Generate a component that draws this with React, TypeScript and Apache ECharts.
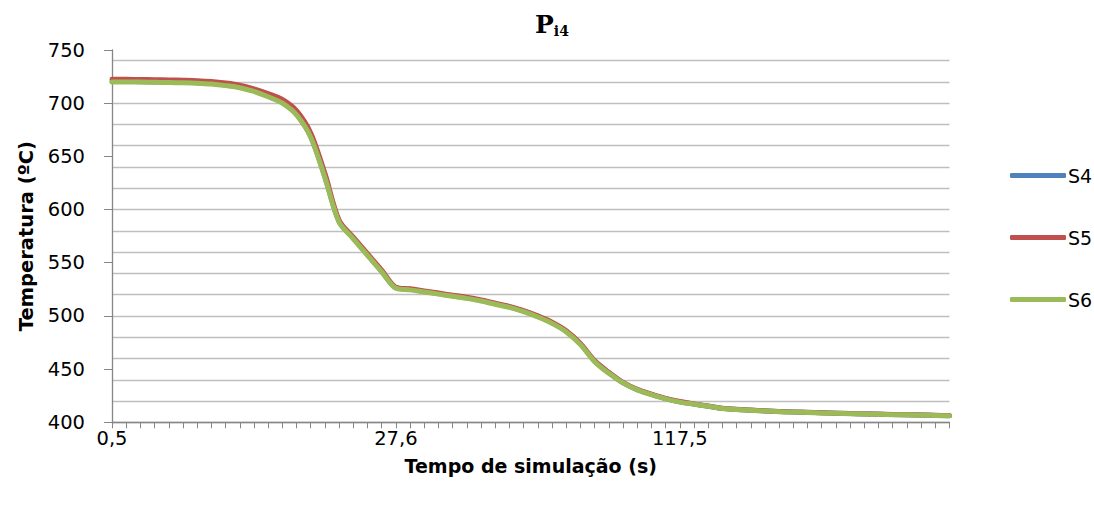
import React, { useEffect, useRef } from "react";
import * as echarts from "echarts";

const times: number[] = [
  0.5, 1.8, 3.2, 4.5, 5.9, 7.2, 8.6, 9.9, 11.3, 12.6,
  14.0, 15.3, 16.7, 18.0, 19.4, 20.7, 22.1, 23.4, 24.8, 26.1,
  27.6, 32.1, 36.6, 41.1, 45.6, 50.1, 54.6, 59.1, 63.6, 68.1,
  72.6, 77.1, 81.6, 86.1, 90.6, 95.1, 99.6, 104.1, 108.6, 113.1,
  117.5, 132.5, 147.5, 162.5, 177.5, 192.5, 207.5, 222.5, 237.5, 252.5,
  267.5, 282.5, 297.5, 312.5, 327.5, 342.5, 357.5, 372.5, 387.5, 402.5,
];

const s6: number[] = [
  720, 720, 719.8, 719.6, 719.4, 719.2, 718.8, 718, 716.5, 714.5,
  711, 706, 700, 689, 668, 630, 588, 572.5, 557, 541.5,
  526, 524.5, 522.5, 520.5, 518.5, 516.5, 514, 511, 508, 504,
  499, 493, 485, 473, 457, 446, 437, 430.5, 426, 422,
  419, 417, 415, 413, 412, 411.3, 410.6, 410, 409.6, 409.2,
  408.8, 408.4, 408.1, 407.8, 407.5, 407.2, 407, 406.7, 406.4, 406.1,
];

const s5: number[] = [
  722.5, 722.4, 722.3, 722.1, 721.9, 721.6, 721.2, 720.4, 719, 717,
  713.5, 709, 703.5, 693, 672, 634, 590, 574, 558.5, 543,
  527, 525.5, 523.5, 521.5, 519.5, 517.5, 515, 512, 509, 505,
  500, 494, 486, 474, 458, 447, 437.5, 431, 426.5, 422.5,
  419.5, 417.3, 415.3, 413.3, 412.2, 411.5, 410.8, 410.2, 409.8, 409.4,
  409, 408.6, 408.3, 408, 407.7, 407.4, 407.2, 406.9, 406.6, 406.3,
];

const s4: number[] = [
  720.5, 720.4, 720.2, 720, 719.8, 719.6, 719.2, 718.4, 717, 715,
  711.5, 706.5, 700.5, 689.5, 668.5, 630.5, 588.5, 573, 557.5, 542,
  526.5, 525, 523, 521, 519, 517, 514.5, 511.5, 508.5, 504.5,
  499.5, 493.5, 485.5, 473.5, 457.5, 446.5, 437, 430.7, 426.2, 422.2,
  419.2, 417.1, 415.1, 413.1, 412.1, 411.4, 410.7, 410.1, 409.7, 409.3,
  408.9, 408.5, 408.2, 407.9, 407.6, 407.3, 407.1, 406.8, 406.5, 406.2,
];

const seriesNames = ["S4", "S5", "S6"];
const seriesColors = ["#4F81BD", "#C0504D", "#9BBB59"];

export default function App() {
  const ref = useRef<HTMLDivElement>(null);
  useEffect(() => {
    if (!ref.current) return;
    const chart = echarts.init(ref.current, undefined, { renderer: "svg" });
    const font = "'DejaVu Sans', Verdana, sans-serif";
    const serif = "'DejaVu Serif', 'Liberation Serif', serif";
    const data = [s4, s5, s6];
    chart.setOption({
      animation: false,
      backgroundColor: "#ffffff",
      textStyle: { fontFamily: font },
      title: {
        text: "{p|P}{s|i4}",
        left: 547,
        textAlign: "center",
        top: 6,
        textStyle: {
          rich: {
            p: { fontFamily: serif, fontWeight: "bold", fontSize: 25, color: "#000" },
            s: { fontFamily: serif, fontWeight: "bold", fontSize: 14, color: "#000", padding: [13, 0, 0, 0] },
          },
        },
      },
      legend: {
        orient: "vertical",
        left: 1005,
        top: 161,
        itemWidth: 56,
        itemHeight: 5,
        itemGap: 43,
        icon: "roundRect",
        data: seriesNames,
        textStyle: { fontSize: 19, color: "#000", fontFamily: font, padding: [0, 0, 0, -3] },
      },
      grid: { left: 112, right: 144.5, top: 50, bottom: 83.7, containLabel: false },
      xAxis: {
        type: "category",
        boundaryGap: false,
        data: times,
        name: "Tempo de simulação (s)",
        nameLocation: "middle",
        nameGap: 34,
        nameTextStyle: { fontSize: 19, fontWeight: "bold", color: "#000", fontFamily: font },
        axisLine: { lineStyle: { color: "#868686", width: 1.3 } },
        axisTick: { show: true, interval: 0, length: 6, lineStyle: { color: "#868686" } },
        axisLabel: {
          interval: 19,
          fontSize: 19.5,
          color: "#000",
          margin: 6,
          fontFamily: font,
          formatter: (v: string) => String(v).replace(".", ","),
        },
        splitLine: { show: false },
      },
      yAxis: [
        {
          type: "value",
          min: 400,
          max: 750,
          interval: 50,
          name: "Temperatura (ºC)",
          nameLocation: "middle",
          nameGap: 75,
          nameTextStyle: { fontSize: 19.5, fontWeight: "bold", color: "#000", fontFamily: font },
          axisLine: { show: true, lineStyle: { color: "#868686", width: 1.3 } },
          axisTick: { show: true, length: 8, lineStyle: { color: "#868686" } },
          axisLabel: { fontSize: 19.5, color: "#000", margin: 27, fontFamily: font },
          splitLine: { show: false },
        },
        {
          type: "value",
          min: 400,
          max: 750,
          interval: 20,
          position: "left",
          axisLine: { show: false },
          axisTick: { show: false },
          axisLabel: { show: false },
          splitLine: { show: true, showMaxLine: false, lineStyle: { color: "#BFBFBF", width: 1.3 } },
        },
      ],
      series: seriesNames.map((n, i) => ({
        name: n,
        type: "line",
        data: data[i],
        yAxisIndex: 0,
        symbol: "none",
        smooth: 0.3,
        z: 3 + i,
        lineStyle: { color: seriesColors[i], width: 5, cap: "round", join: "round" },
        itemStyle: { color: seriesColors[i] },
      })),
    });
    return () => chart.dispose();
  }, []);
  return (
    <div
      ref={ref}
      style={{ position: "fixed", left: 0, top: 0, width: 1094, height: 506 }}
    />
  );
}
